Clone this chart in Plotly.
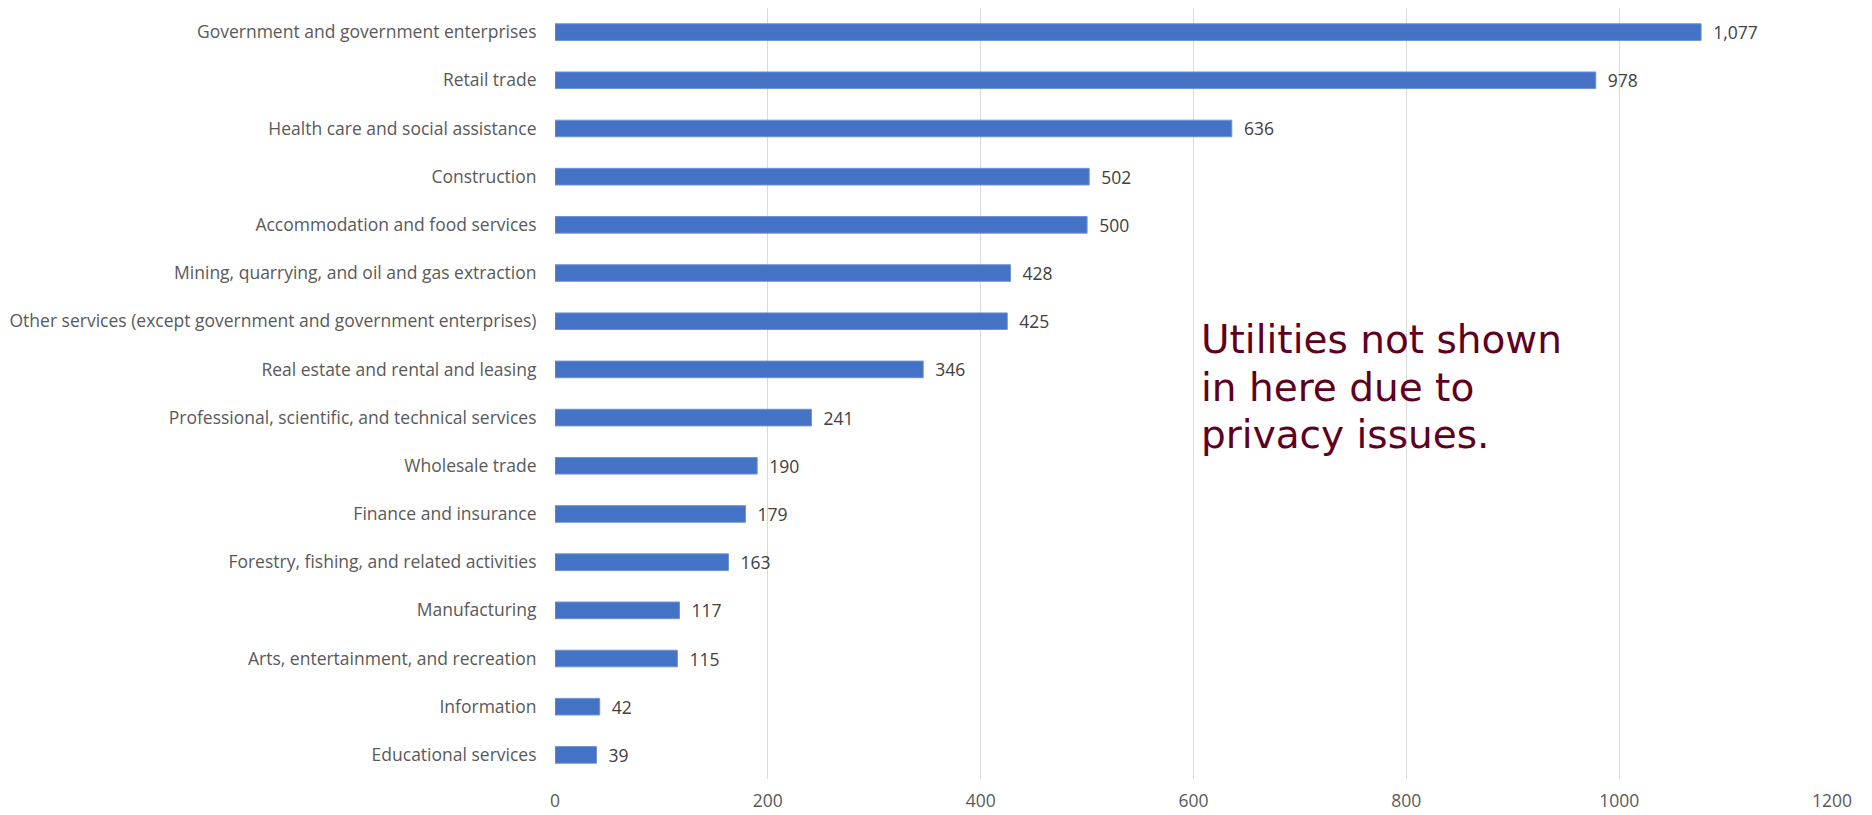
import plotly.graph_objects as go

categories = [
    "Government and government enterprises",
    "Retail trade",
    "Health care and social assistance",
    "Construction",
    "Accommodation and food services",
    "Mining, quarrying, and oil and gas extraction",
    "Other services (except government and government enterprises)",
    "Real estate and rental and leasing",
    "Professional, scientific, and technical services",
    "Wholesale trade",
    "Finance and insurance",
    "Forestry, fishing, and related activities",
    "Manufacturing",
    "Arts, entertainment, and recreation",
    "Information",
    "Educational services",
]
values = [1077, 978, 636, 502, 500, 428, 425, 346, 241, 190, 179, 163, 117, 115, 42, 39]
x_ticks = [0, 200, 400, 600, 800, 1000, 1200]
note_lines = ["Utilities not shown", "in here due to", "privacy issues."]

label_font = "Open Sans, sans-serif"

fig = go.Figure()
fig.add_trace(go.Bar(
    x=values,
    y=categories,
    orientation="h",
    marker=dict(color="#4472C4", line=dict(color="#6f93d6", width=1)),
    text=values,
    texttemplate="\u00a0\u00a0%{x:,}",
    textposition="outside",
    constraintext="none",
    cliponaxis=False,
    textfont=dict(family=label_font, size=17.5, color="#404040"),
    hoverinfo="skip",
))

note_y = [0.5703, 0.5083, 0.4472]
for line, yy in zip(note_lines, note_y):
    fig.add_annotation(
        x=605, xref="x", y=yy, yref="paper",
        xanchor="left", yanchor="middle",
        text=line, showarrow=False,
        font=dict(family="DejaVu Sans", size=39, color="#600020"),
    )

fig.update_layout(
    width=1864, height=807,
    margin=dict(l=547, r=40, t=0, b=36, autoexpand=False),
    paper_bgcolor="white", plot_bgcolor="white",
    bargap=0.655,
    showlegend=False,
    xaxis=dict(
        range=[0, 1200], tickvals=x_ticks, ticktext=[str(v) for v in x_ticks],
        showgrid=True, gridcolor="#d9d9d9", gridwidth=1.3,
        zeroline=False, showline=False, automargin=False,
        ticks="outside", ticklen=6, tickcolor="rgba(0,0,0,0)",
        tickfont=dict(family=label_font, size=17.5, color="#595959"),
    ),
    yaxis=dict(
        autorange="reversed", showgrid=False, zeroline=False, showline=False,
        automargin=False,
        ticks="outside", ticklen=14, tickcolor="rgba(0,0,0,0)",
        tickfont=dict(family=label_font, size=17.5, color="#595959"),
    ),
)

fig.write_html("out.html")
